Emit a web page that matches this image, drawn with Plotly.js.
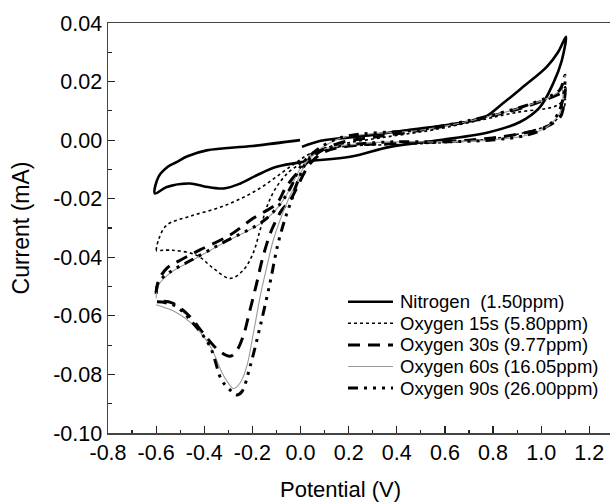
<!DOCTYPE html>
<html>
<head>
<meta charset="utf-8">
<script src="https://cdn.plot.ly/plotly-3.0.1.min.js"></script>
<style>html,body{margin:0;padding:0;background:#fff;}#chart{width:610px;height:504px;}</style>
</head>
<body>
<div id="chart"></div>
<script>
// ---- data ----
const seriesNames = ["Nitrogen  (1.50ppm)", "Oxygen 15s (5.80ppm)", "Oxygen 30s (9.77ppm)", "Oxygen 60s (16.05ppm)", "Oxygen 90s (26.00ppm)"];

const n2X = [0.006, 0.08, 0.164, 0.30, 0.441, 0.649, 0.758, 0.84, 0.925, 1.023, 1.07, 1.103,
  1.085, 1.05, 0.995, 0.912, 0.787, 0.58, 0.372, 0.206, 0.012, -0.099, -0.182, -0.25, -0.32, -0.40, -0.459, -0.556, -0.605,
  -0.59, -0.55, -0.515, -0.47, -0.39, -0.2, -0.002];
const n2Y = [-0.0023, -0.0003, 0.0006, 0.0018, 0.0034, 0.0057, 0.0075, 0.0125, 0.0182, 0.025, 0.030, 0.0353,
  0.027, 0.0194, 0.0113, 0.0062, 0.0028, 0.0, -0.0023, -0.0057, -0.0074, -0.0091, -0.012, -0.0148, -0.0165, -0.0158, -0.0148, -0.016, -0.0182,
  -0.0125, -0.009, -0.0075, -0.0055, -0.0035, -0.002, 0.0];

const o15X = [-0.6, -0.59, -0.556, -0.459, -0.32, -0.182, -0.043, 0.04, 0.15, 0.35, 0.55, 0.746, 0.9, 1.05, 1.08, 1.1,
  1.095, 1.08, 1.04, 0.95, 0.8, 0.6, 0.4, 0.2, 0.12, 0.05, 0.0, -0.05, -0.1, -0.14, -0.168, -0.197, -0.238, -0.293, -0.363, -0.432, -0.53, -0.6];
const o15Y = [-0.0376, -0.034, -0.029, -0.026, -0.0225, -0.0171, -0.0091, -0.0046, -0.0017, 0.001, 0.0035, 0.0068, 0.0095, 0.0113, 0.0126, 0.014,
  0.011, 0.0085, 0.0055, 0.003, 0.0005, -0.0008, -0.0015, -0.002, -0.003, -0.005, -0.008, -0.011, -0.016, -0.0228, -0.0307, -0.0386, -0.0444, -0.0472, -0.0437, -0.0393, -0.0376, -0.0378];

const o30X = [-0.6, -0.59, -0.556, -0.50, -0.418, -0.293, -0.197, -0.099, -0.06, 0.01, 0.08, 0.16, 0.3, 0.5, 0.72, 0.93, 1.03, 1.09, 1.1,
  1.095, 1.08, 1.02, 0.9, 0.7, 0.45, 0.2, 0.1, 0.04, -0.043, -0.078, -0.12, -0.156, -0.182, -0.21, -0.239, -0.27, -0.293, -0.335, -0.405, -0.459, -0.53, -0.57, -0.6];
const o30Y = [-0.0525, -0.048, -0.0438, -0.041, -0.0375, -0.0324, -0.0267, -0.0216, -0.016, -0.0091, -0.004, -0.001, 0.001, 0.0034, 0.0068, 0.0113, 0.0142, 0.0165, 0.018,
  0.013, 0.008, 0.0045, 0.002, 0.0, -0.001, -0.002, -0.004, -0.008, -0.0205, -0.0239, -0.0307, -0.0398, -0.0488, -0.058, -0.0671, -0.0725, -0.0738, -0.0722, -0.0659, -0.0603, -0.0557, -0.055, -0.0555];

const o60X = [-0.6, -0.59, -0.542, -0.459, -0.322, -0.156, -0.085, -0.04, 0.0, 0.05, 0.164, 0.497, 0.717, 0.925, 1.023, 1.078, 1.085,
  1.09, 1.075, 1.023, 0.94, 0.787, 0.58, 0.372, 0.192, 0.1, 0.031, -0.018, -0.052, -0.085, -0.113, -0.14, -0.168, -0.196, -0.224, -0.252, -0.279, -0.30, -0.324, -0.373, -0.437, -0.52, -0.6];
const o60Y = [-0.054, -0.0495, -0.0454, -0.0415, -0.0352, -0.0279, -0.022, -0.016, -0.0095, -0.005, 0.0006, 0.0034, 0.0068, 0.0113, 0.0142, 0.017, 0.0187,
  0.014, 0.009, 0.0045, 0.0017, 0.0, -0.0006, -0.0006, -0.0017, -0.003, -0.0068, -0.0148, -0.0205, -0.0273, -0.0341, -0.0432, -0.0535, -0.066, -0.0774, -0.083, -0.0848, -0.083, -0.0798, -0.0707, -0.0638, -0.0587, -0.0562];

const o90X = [-0.6, -0.59, -0.542, -0.459, -0.322, -0.156, -0.085, -0.04, 0.0, 0.05, 0.164, 0.497, 0.717, 0.925, 1.023, 1.078, 1.099,
  1.092, 1.071, 1.023, 0.94, 0.787, 0.58, 0.372, 0.192, 0.1, 0.03, -0.02, -0.037, -0.057, -0.093, -0.127, -0.168, -0.21, -0.244, -0.265, -0.293, -0.328, -0.376, -0.446, -0.515, -0.56, -0.6];
const o90Y = [-0.052, -0.0485, -0.045, -0.0412, -0.035, -0.0277, -0.0218, -0.016, -0.009, -0.0045, 0.0008, 0.0036, 0.007, 0.0115, 0.0145, 0.0172, 0.0222,
  0.0148, 0.0092, 0.0045, 0.0017, 0.0, -0.0006, -0.0006, -0.0017, -0.003, -0.007, -0.016, -0.0205, -0.025, -0.0352, -0.0488, -0.0637, -0.0774, -0.0859, -0.087, -0.0853, -0.0819, -0.0705, -0.0625, -0.0569, -0.0555, -0.0552];

const xTickVals = [-0.8, -0.6, -0.4, -0.2, 0.0, 0.2, 0.4, 0.6, 0.8, 1.0, 1.2];
const xTickText = ["-0.8", "-0.6", "-0.4", "-0.2", "0.0", "0.2", "0.4", "0.6", "0.8", "1.0", "1.2"];
const yTickVals = [0.04, 0.02, 0.00, -0.02, -0.04, -0.06, -0.08, -0.10];
const yTickText = ["0.04", "0.02", "0.00", "-0.02", "-0.04", "-0.06", "-0.08", "-0.10"];

// ---- styling ----
const FONT = "Liberation Sans, Arial, Helvetica, sans-serif";
const lineStyles = [
  {color: "#000", width: 2.6},
  {color: "#000", width: 1.6, dash: "dot"},
  {color: "#000", width: 3, dash: "12px,8px"},
  {color: "#9a9a9a", width: 1.1},
  {color: "#000", width: 3, dash: "10px,6px,3px,6px,3px,6px,3px,6px"}
];
const xs = [n2X, o15X, o30X, o60X, o90X];
const ys = [n2Y, o15Y, o30Y, o60Y, o90Y];

const traces = xs.map((x, i) => ({
  type: "scatter", mode: "lines", x: x, y: ys[i], name: seriesNames[i],
  line: Object.assign({shape: "spline"}, lineStyles[i]), showlegend: false
}));

// plot box in pixels
const M = {l: 108, r: 0, t: 23, b: 71};
const W = 610, H = 504;
const PW = W - M.l - M.r, PH = H - M.t - M.b;
const pxX = p => (p - M.l) / PW;
const pxY = p => (H - M.b - p) / PH;

// custom legend (line samples + labels), laid out in pixels
const legendTop = 301.7, legendStep = 21.6, sampleX0 = 348, sampleX1 = 393, textX = 398;
const shapes = [], annotations = [];
seriesNames.forEach((nm, i) => {
  const yy = pxY(legendTop + i * legendStep);
  shapes.push({type: "line", xref: "paper", yref: "paper", x0: pxX(sampleX0), x1: pxX(sampleX1), y0: yy, y1: yy,
               line: Object.assign({}, lineStyles[i], {dash: lineStyles[i].dash || "solid"})});
  annotations.push({xref: "paper", yref: "paper", x: pxX(textX), y: yy, xanchor: "left", yanchor: "middle",
                    text: nm.replace(/  /g, "&nbsp; "), showarrow: false, font: {family: FONT, size: 18.5, color: "#000"}});
});
// x axis title
annotations.push({xref: "paper", yref: "paper", x: pxX(340), y: pxY(489), xanchor: "center", yanchor: "middle",
                  borderpad: 0, text: "Potential (V)", showarrow: false, font: {family: FONT, size: 22, color: "#000"}});

const axisCommon = {
  showgrid: false, zeroline: false, showline: true, linecolor: "#444", linewidth: 1.5, mirror: true,
  ticks: "inside", ticklen: 7, tickwidth: 1.2, tickcolor: "#222",
  tickfont: {family: FONT, size: 21.5, color: "#000"}
};

const layout = {
  width: W, height: H, margin: M,
  paper_bgcolor: "#fff", plot_bgcolor: "#fff",
  showlegend: false,
  shapes: shapes, annotations: annotations,
  xaxis: Object.assign({}, axisCommon, {
    range: [-0.8, 1.286], tickmode: "array", tickvals: xTickVals, ticktext: xTickText,
    minor: {ticks: "inside", ticklen: 3.5, dtick: 0.1, tick0: -0.8, tickcolor: "#222", tickwidth: 1.2},
    ticklabelstandoff: 0
  }),
  yaxis: Object.assign({}, axisCommon, {
    range: [-0.10, 0.04], tickmode: "array", tickvals: yTickVals, ticktext: yTickText,
    minor: {ticks: "inside", ticklen: 3.5, dtick: 0.01, tick0: 0, tickcolor: "#222", tickwidth: 1.2},
    ticklabelstandoff: 0,
    title: {text: "Current (mA)", font: {family: FONT, size: 23, color: "#000"}, standoff: 17}
  })
};

Plotly.newPlot("chart", traces, layout, {staticPlot: true, displayModeBar: false});
</script>
</body>
</html>
